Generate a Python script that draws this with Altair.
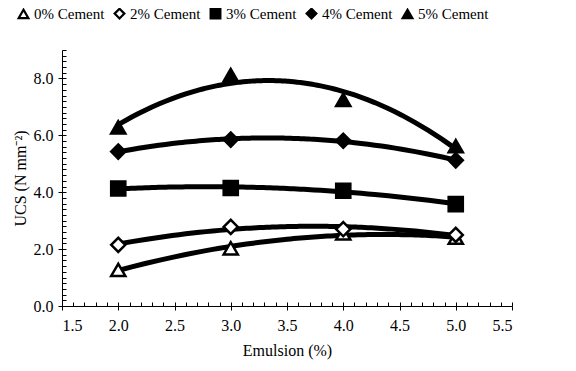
import altair as alt
import pandas as pd

emulsion = [2, 3, 4, 5]
series_names = ["0% Cement", "2% Cement", "3% Cement", "4% Cement", "5% Cement"]
ucs_0 = [1.27, 2.03, 2.55, 2.40]
ucs_2 = [2.15, 2.78, 2.70, 2.50]
ucs_3 = [4.13, 4.15, 4.05, 3.58]
ucs_4 = [5.43, 5.85, 5.81, 5.12]
ucs_5 = [6.28, 8.12, 7.25, 5.62]

shapes = ["triangle-up", "diamond", "square", "diamond", "triangle-up"]
fills = ["white", "white", "black", "black", "black"]

rows = []
for name, vals in zip(series_names, [ucs_0, ucs_2, ucs_3, ucs_4, ucs_5]):
    for x, y in zip(emulsion, vals):
        rows.append({"Emulsion": x, "UCS": y, "Series": name})
df = pd.DataFrame(rows)

FONT = "'Liberation Serif', 'Times New Roman', serif"
xscale = alt.Scale(domain=[1.5, 5.5], nice=False)
yscale = alt.Scale(domain=[0, 9], nice=False)

major_x = [1.5, 2.0, 2.5, 3.0, 3.5, 4.0, 4.5, 5.0, 5.5]
minor_x = [round(1.5 + 0.1 * i, 2) for i in range(41)]
major_y = [0, 2, 4, 6, 8]
minor_y = [round(0.2 * i, 2) for i in range(46)]

base = alt.Chart(df)

lines = base.transform_regression(
    "Emulsion", "UCS", groupby=["Series"], method="poly", order=2, extent=[2, 5]
).mark_line(color="black", strokeWidth=5).encode(
    x=alt.X("Emulsion:Q", scale=xscale,
            axis=alt.Axis(values=minor_x, orient="bottom", offset=-4, tickSize=4,
                          labels=False, domain=False, title=None, grid=False,
                          tickColor="black")),
    y=alt.Y("UCS:Q", scale=yscale,
            axis=alt.Axis(values=minor_y, orient="left", offset=-4, tickSize=4,
                          labels=False, domain=False, title=None, grid=False,
                          tickColor="black")),
    detail="Series:N",
)

points = base.mark_point(size=200, strokeWidth=2.5, opacity=1, filled=False).encode(
    x=alt.X("Emulsion:Q", scale=xscale,
            axis=alt.Axis(values=major_x, format=".1f", orient="bottom", tickSize=4,
                          title="Emulsion (%)", grid=False, domainColor="black",
                          tickColor="black", labelColor="black", titleColor="black",
                          labelFont=FONT, titleFont=FONT, labelFontSize=16,
                          titleFontSize=16, titleFontWeight="normal", labelPadding=7,
                          titlePadding=9)),
    y=alt.Y("UCS:Q", scale=yscale,
            axis=alt.Axis(values=major_y, format=".1f", orient="left", tickSize=4,
                          title="UCS (N mm⁻²)", grid=False, domainColor="black",
                          tickColor="black", labelColor="black", titleColor="black",
                          labelFont=FONT, titleFont=FONT, labelFontSize=16,
                          titleFontSize=16, titleFontWeight="normal", labelPadding=5,
                          titlePadding=5)),
    shape=alt.Shape("Series:N", scale=alt.Scale(domain=series_names, range=shapes),
                    legend=alt.Legend(title=None)),
    fill=alt.Fill("Series:N", scale=alt.Scale(domain=series_names, range=fills),
                  legend=alt.Legend(title=None)),
    stroke=alt.Stroke("Series:N", scale=alt.Scale(domain=series_names, range=["black"] * 5),
                      legend=alt.Legend(title=None)),
)

chart = alt.layer(lines, points).resolve_axis(
    x="independent", y="independent"
).properties(
    width=450, height=256,
    autosize=alt.AutoSizeParams(type="none"),
    padding={"left": 54, "top": 42, "right": 56, "bottom": 57},
).configure(font=FONT).configure_view(stroke=None).configure_legend(
    orient="none", legendX=-46, legendY=-44, direction="horizontal",
    labelFont=FONT, labelFontSize=15, labelColor="black",
    symbolSize=95, symbolStrokeWidth=2.2,
    labelOffset=3, columnPadding=5,
)

chart.save("out.html", embed_options={"renderer": "svg", "actions": False})
